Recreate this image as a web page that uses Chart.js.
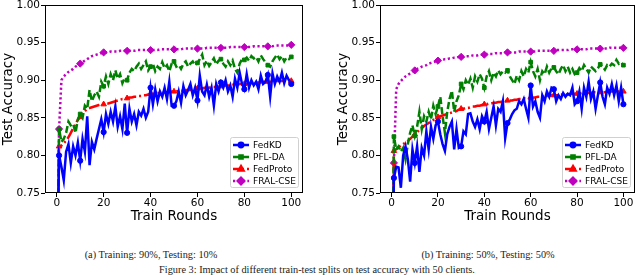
<!DOCTYPE html>
<html>
<head>
<meta charset="utf-8">
<script src="https://cdn.jsdelivr.net/npm/chart.js@4.4.1/dist/chart.umd.min.js"></script>
<style>
  html, body { margin: 0; padding: 0; background: #fff; }
  #wrap { position: relative; width: 640px; height: 275px; overflow: hidden; }
  .plot { position: absolute; top: 0; width: 320px; height: 230px; }
  .cap { position: absolute; text-align: center; font-family: "Liberation Serif", serif; font-size: 10.3px; line-height: 10px; color: #222; white-space: nowrap; }
</style>
</head>
<body>
<div id="wrap">
  <div class="plot" style="left:0"><canvas id="chartA" width="320" height="230"></canvas></div>
  <div class="plot" style="left:320px"><canvas id="chartB" width="320" height="230"></canvas></div>
  <div class="cap" style="left:51px; top:250px; width:200px">(a) Training: 90%, Testing: 10%</div>
  <div class="cap" style="left:388px; top:250px; width:200px">(b) Training: 50%, Testing: 50%</div>
  <div class="cap" style="left:117px; top:265px; width:400px">Figure 3: Impact of different train-test splits on test accuracy with 50 clients.</div>
</div>
<script>
// rounds 0..100 (x axis)
const rounds = Array.from({ length: 101 }, (_, i) => i)
const xTicks = [0, 20, 40, 60, 80, 100]
const yTicks = [0.75, 0.80, 0.85, 0.90, 0.95, 1.00]
const seriesNames = ['FedKD', 'PFL-DA', 'FedProto', 'FRAL-CSE']

// (a) Training 90% / Testing 10%
const fedkdA = [0.60, 0.800, 0.785, 0.767, 0.805, 0.815, 0.790, 0.812, 0.800, 0.817,
  0.793, 0.822, 0.805, 0.852, 0.787, 0.818, 0.808, 0.822, 0.835, 0.848,
  0.831, 0.855, 0.842, 0.858, 0.845, 0.865, 0.838, 0.852, 0.835, 0.869,
  0.830, 0.862, 0.845, 0.855, 0.840, 0.858, 0.853, 0.862, 0.850, 0.858,
  0.890, 0.868, 0.888, 0.872, 0.885, 0.878, 0.890, 0.875, 0.898, 0.866,
  0.866, 0.872, 0.885, 0.870, 0.892, 0.880, 0.887, 0.895, 0.880, 0.890,
  0.873, 0.906, 0.885, 0.880, 0.894, 0.878, 0.890, 0.866, 0.895, 0.885,
  0.897, 0.890, 0.900, 0.885, 0.893, 0.878, 0.902, 0.890, 0.910, 0.895,
  0.888, 0.908, 0.890, 0.900, 0.893, 0.898, 0.888, 0.906, 0.895, 0.898,
  0.907, 0.878, 0.909, 0.895, 0.905, 0.898, 0.910, 0.896, 0.906, 0.900,
  0.895]
const pfldaA = [0.60, 0.835, 0.818, 0.822, 0.830, 0.845, 0.840, 0.842, 0.830, 0.848,
  0.855, 0.850, 0.866, 0.862, 0.887, 0.872, 0.880, 0.885, 0.878, 0.898,
  0.892, 0.905, 0.895, 0.908, 0.900, 0.913, 0.902, 0.908, 0.896, 0.903,
  0.900, 0.910, 0.915, 0.912, 0.918, 0.922, 0.915, 0.920, 0.925, 0.913,
  0.918, 0.922, 0.912, 0.918, 0.915, 0.924, 0.916, 0.920, 0.912, 0.922,
  0.925, 0.918, 0.920, 0.915, 0.922, 0.925, 0.918, 0.922, 0.925, 0.920,
  0.923, 0.928, 0.934, 0.920, 0.926, 0.919, 0.924, 0.929, 0.921, 0.926,
  0.928, 0.922, 0.918, 0.925, 0.920, 0.926, 0.915, 0.910, 0.922, 0.928,
  0.927, 0.930, 0.926, 0.932, 0.929, 0.931, 0.925, 0.933, 0.928, 0.924,
  0.920, 0.918, 0.925, 0.930, 0.934, 0.928, 0.932, 0.925, 0.930, 0.928,
  0.931]
const fedprotoA = [0.60, 0.812, 0.813, 0.816, 0.820, 0.824, 0.830, 0.836, 0.842, 0.847,
  0.851, 0.855, 0.859, 0.862, 0.863, 0.864, 0.865, 0.866, 0.867, 0.868,
  0.868, 0.869, 0.869, 0.870, 0.871, 0.872, 0.873, 0.874, 0.875, 0.875,
  0.876, 0.877, 0.877, 0.878, 0.878, 0.879, 0.879, 0.880, 0.880, 0.881,
  0.882, 0.882, 0.882, 0.883, 0.883, 0.883, 0.884, 0.884, 0.884, 0.885,
  0.885, 0.885, 0.886, 0.886, 0.886, 0.887, 0.887, 0.887, 0.888, 0.888,
  0.889, 0.889, 0.889, 0.890, 0.890, 0.890, 0.891, 0.891, 0.891, 0.892,
  0.892, 0.892, 0.893, 0.893, 0.893, 0.894, 0.894, 0.894, 0.895, 0.895,
  0.895, 0.895, 0.896, 0.896, 0.896, 0.897, 0.897, 0.897, 0.898, 0.898,
  0.898, 0.898, 0.898, 0.899, 0.899, 0.899, 0.899, 0.899, 0.900, 0.900,
  0.899]
const fralA = [0.60, 0.835, 0.900, 0.905, 0.908, 0.911, 0.913, 0.915, 0.918, 0.920,
  0.922, 0.924, 0.926, 0.928, 0.930, 0.932, 0.933, 0.934, 0.935, 0.936,
  0.937, 0.937, 0.937, 0.938, 0.938, 0.938, 0.938, 0.939, 0.939, 0.939,
  0.939, 0.939, 0.939, 0.939, 0.940, 0.940, 0.940, 0.940, 0.940, 0.940,
  0.940, 0.940, 0.940, 0.940, 0.941, 0.941, 0.941, 0.941, 0.941, 0.941,
  0.941, 0.941, 0.941, 0.941, 0.942, 0.942, 0.942, 0.942, 0.942, 0.942,
  0.942, 0.942, 0.942, 0.942, 0.943, 0.943, 0.943, 0.943, 0.943, 0.943,
  0.943, 0.943, 0.943, 0.943, 0.944, 0.944, 0.944, 0.944, 0.944, 0.944,
  0.944, 0.944, 0.944, 0.944, 0.945, 0.945, 0.945, 0.945, 0.945, 0.945,
  0.945, 0.945, 0.945, 0.946, 0.946, 0.946, 0.946, 0.946, 0.946, 0.946,
  0.947]

// (b) Training 50% / Testing 50%
const fedkdB = [0.55, 0.770, 0.785, 0.784, 0.757, 0.800, 0.812, 0.795, 0.765, 0.808,
  0.790, 0.812, 0.778, 0.810, 0.800, 0.832, 0.808, 0.838, 0.822, 0.840,
  0.845, 0.828, 0.815, 0.806, 0.828, 0.838, 0.845, 0.808, 0.835, 0.810,
  0.812, 0.832, 0.828, 0.855, 0.856, 0.845, 0.838, 0.848, 0.835, 0.852,
  0.845, 0.858, 0.835, 0.850, 0.865, 0.840, 0.862, 0.858, 0.872, 0.823,
  0.843, 0.848, 0.855, 0.860, 0.862, 0.872, 0.868, 0.875, 0.862, 0.850,
  0.893, 0.865, 0.872, 0.858, 0.850, 0.880, 0.872, 0.885, 0.878, 0.890,
  0.888, 0.872, 0.880, 0.875, 0.883, 0.878, 0.882, 0.880, 0.890, 0.868,
  0.872, 0.885, 0.862, 0.890, 0.878, 0.898, 0.875, 0.885, 0.862, 0.880,
  0.897, 0.878, 0.868, 0.890, 0.882, 0.895, 0.880, 0.893, 0.872, 0.890,
  0.868]
const pfldaB = [0.55, 0.825, 0.808, 0.812, 0.805, 0.810, 0.795, 0.815, 0.830, 0.840,
  0.826, 0.838, 0.858, 0.835, 0.852, 0.845, 0.858, 0.848, 0.866, 0.855,
  0.865, 0.878, 0.852, 0.830, 0.858, 0.875, 0.886, 0.858, 0.872, 0.880,
  0.895, 0.888, 0.900, 0.894, 0.902, 0.890, 0.905, 0.898, 0.908, 0.902,
  0.890, 0.905, 0.912, 0.900, 0.910, 0.905, 0.913, 0.908, 0.912, 0.910,
  0.913, 0.905, 0.900, 0.895, 0.906, 0.900, 0.912, 0.905, 0.915, 0.910,
  0.924, 0.912, 0.905, 0.915, 0.900, 0.912, 0.908, 0.918, 0.910, 0.916,
  0.917, 0.912, 0.908, 0.915, 0.920, 0.912, 0.918, 0.910, 0.915, 0.908,
  0.910, 0.916, 0.912, 0.920, 0.915, 0.910, 0.918, 0.915, 0.912, 0.916,
  0.921, 0.918, 0.914, 0.920, 0.918, 0.922, 0.920, 0.927, 0.922, 0.924,
  0.920]
const fedprotoB = [0.55, 0.806, 0.808, 0.811, 0.813, 0.815, 0.817, 0.819, 0.822, 0.825,
  0.828, 0.831, 0.834, 0.836, 0.839, 0.841, 0.843, 0.845, 0.847, 0.849,
  0.851, 0.852, 0.853, 0.854, 0.855, 0.856, 0.857, 0.858, 0.859, 0.861,
  0.862, 0.862, 0.863, 0.863, 0.864, 0.865, 0.865, 0.866, 0.866, 0.867,
  0.868, 0.868, 0.869, 0.869, 0.870, 0.870, 0.871, 0.871, 0.872, 0.872,
  0.873, 0.873, 0.873, 0.874, 0.874, 0.875, 0.875, 0.876, 0.876, 0.876,
  0.877, 0.877, 0.877, 0.878, 0.878, 0.878, 0.879, 0.879, 0.879, 0.880,
  0.880, 0.880, 0.880, 0.881, 0.881, 0.881, 0.881, 0.882, 0.882, 0.882,
  0.882, 0.882, 0.883, 0.883, 0.883, 0.883, 0.883, 0.884, 0.884, 0.884,
  0.884, 0.884, 0.884, 0.885, 0.885, 0.885, 0.885, 0.885, 0.885, 0.885,
  0.885]
const fralB = [0.55, 0.790, 0.888, 0.895, 0.899, 0.902, 0.905, 0.907, 0.909, 0.911,
  0.913, 0.915, 0.916, 0.918, 0.919, 0.920, 0.922, 0.923, 0.924, 0.925,
  0.926, 0.927, 0.927, 0.928, 0.928, 0.929, 0.929, 0.930, 0.930, 0.931,
  0.931, 0.931, 0.932, 0.932, 0.932, 0.933, 0.933, 0.933, 0.934, 0.934,
  0.934, 0.935, 0.935, 0.935, 0.935, 0.936, 0.936, 0.936, 0.936, 0.937,
  0.937, 0.937, 0.937, 0.937, 0.937, 0.938, 0.938, 0.938, 0.938, 0.938,
  0.938, 0.938, 0.938, 0.939, 0.939, 0.939, 0.939, 0.939, 0.939, 0.939,
  0.939, 0.940, 0.940, 0.940, 0.940, 0.940, 0.940, 0.941, 0.941, 0.941,
  0.941, 0.941, 0.941, 0.941, 0.941, 0.942, 0.942, 0.942, 0.942, 0.942,
  0.942, 0.942, 0.942, 0.942, 0.943, 0.943, 0.943, 0.943, 0.943, 0.943,
  0.943]

// markers every 10 rounds (plus round 1)
const markIdx = [1, 10, 20, 30, 40, 50, 60, 70, 80, 90, 100]

const styles = [
  { color: '#0000ff', dash: [], pointStyle: 'circle', r: 2.6 },
  { color: '#008000', dash: [7, 3], pointStyle: 'rect', r: 2.6 },
  { color: '#ff0000', dash: [11, 3, 2, 3], pointStyle: 'triangle', r: 3.2 },
  { color: '#bf00bf', dash: [2.2, 2.6], pointStyle: 'rectRot', r: 3.6 },
]

const frameAndLegend = {
  id: 'frameAndLegend',
  afterDraw(chart) {
    const { ctx, chartArea: a } = chart
    ctx.save()
    // full box like matplotlib spines
    ctx.strokeStyle = '#000'
    ctx.lineWidth = 1
    ctx.strokeRect(Math.round(a.left) + 0.5, Math.round(a.top) + 0.5, Math.round(a.right - a.left) - 1, Math.round(a.bottom - a.top) - 1)

    // legend, lower right
    const w = 68, h = 50
    const bx = a.right - 5 - w, by = a.bottom - 6 - h
    ctx.fillStyle = 'rgba(255,255,255,0.85)'
    ctx.strokeStyle = '#d0d0d0'
    ctx.lineWidth = 1
    ctx.beginPath()
    ctx.roundRect(bx + 0.5, by + 0.5, w, h, 2)
    ctx.fill()
    ctx.stroke()

    chart.data.datasets.forEach((ds, i) => {
      const st = styles[i]
      const y = by + 8 + i * 12
      ctx.strokeStyle = st.color
      ctx.lineWidth = 2.5
      ctx.setLineDash(st.dash)
      ctx.beginPath()
      ctx.moveTo(bx + 3, y)
      ctx.lineTo(bx + 19, y)
      ctx.stroke()
      ctx.setLineDash([])
      ctx.fillStyle = st.color
      Chart.helpers.drawPoint(ctx, { pointStyle: st.pointStyle, radius: st.r - 0.4, borderWidth: 1 }, bx + 11, y)
      ctx.fill()
      ctx.fillStyle = '#000'
      ctx.font = '9px "DejaVu Sans"'
      ctx.textBaseline = 'middle'
      ctx.fillText(ds.label, bx + 23, y + 0.5)
    })
    ctx.restore()
  }
}

function makeChart(id, series, padLeft, padRight) {
  return new Chart(document.getElementById(id), {
    type: 'line',
    data: {
      datasets: series.map((vals, i) => ({
        label: seriesNames[i],
        data: rounds.map((r, k) => ({ x: r, y: vals[k] })),
        borderColor: styles[i].color,
        backgroundColor: styles[i].color,
        borderWidth: 2.5,
        borderDash: styles[i].dash,
        pointStyle: styles[i].pointStyle,
        pointRadius: ctx => markIdx.includes(ctx.dataIndex) ? styles[i].r : 0,
        pointBorderWidth: 1,
        pointBorderColor: styles[i].color,
        pointBackgroundColor: styles[i].color,
        tension: 0,
        fill: false,
      })),
    },
    options: {
      responsive: false,
      animation: false,
      events: [],
      layout: { padding: { left: padLeft, right: padRight, top: 5, bottom: 5 } },
      plugins: { legend: { display: false }, tooltip: { enabled: false } },
      scales: {
        x: {
          type: 'linear',
          min: -5,
          max: 105,
          afterBuildTicks: s => { s.ticks = xTicks.map(v => ({ value: v })) },
          afterFit: s => { s.height = 32; s.paddingLeft = 0; s.paddingRight = 0 },
          grid: { drawOnChartArea: false, drawTicks: true, tickLength: 4, color: '#000' },
          border: { display: false },
          ticks: { font: { size: 10.5, family: 'DejaVu Sans' }, color: '#000', padding: 0, maxRotation: 0, autoSkip: false },
          title: { display: true, text: 'Train Rounds', font: { size: 13.5, family: 'DejaVu Sans' }, color: '#000', padding: 0 },
        },
        y: {
          min: 0.75,
          max: 1.0,
          afterBuildTicks: s => { s.ticks = yTicks.map(v => ({ value: v })) },
          afterFit: s => { s.width = 45; s.paddingTop = 0; s.paddingBottom = 0 },
          grid: { drawOnChartArea: false, drawTicks: true, tickLength: 4, color: '#000' },
          border: { display: false },
          ticks: { font: { size: 10.5, family: 'DejaVu Sans' }, color: '#000', padding: 1, callback: v => v.toFixed(2) },
          title: { display: true, text: 'Test Accuracy', font: { size: 13.5, family: 'DejaVu Sans' }, color: '#000', padding: 0 },
        },
      },
    },
    plugins: [frameAndLegend],
  })
}

makeChart('chartA', [fedkdA, pfldaA, fedprotoA, fralA], 0, 17)
makeChart('chartB', [fedkdB, pfldaB, fedprotoB, fralB], 15, 1.5)
</script>
</body>
</html>
